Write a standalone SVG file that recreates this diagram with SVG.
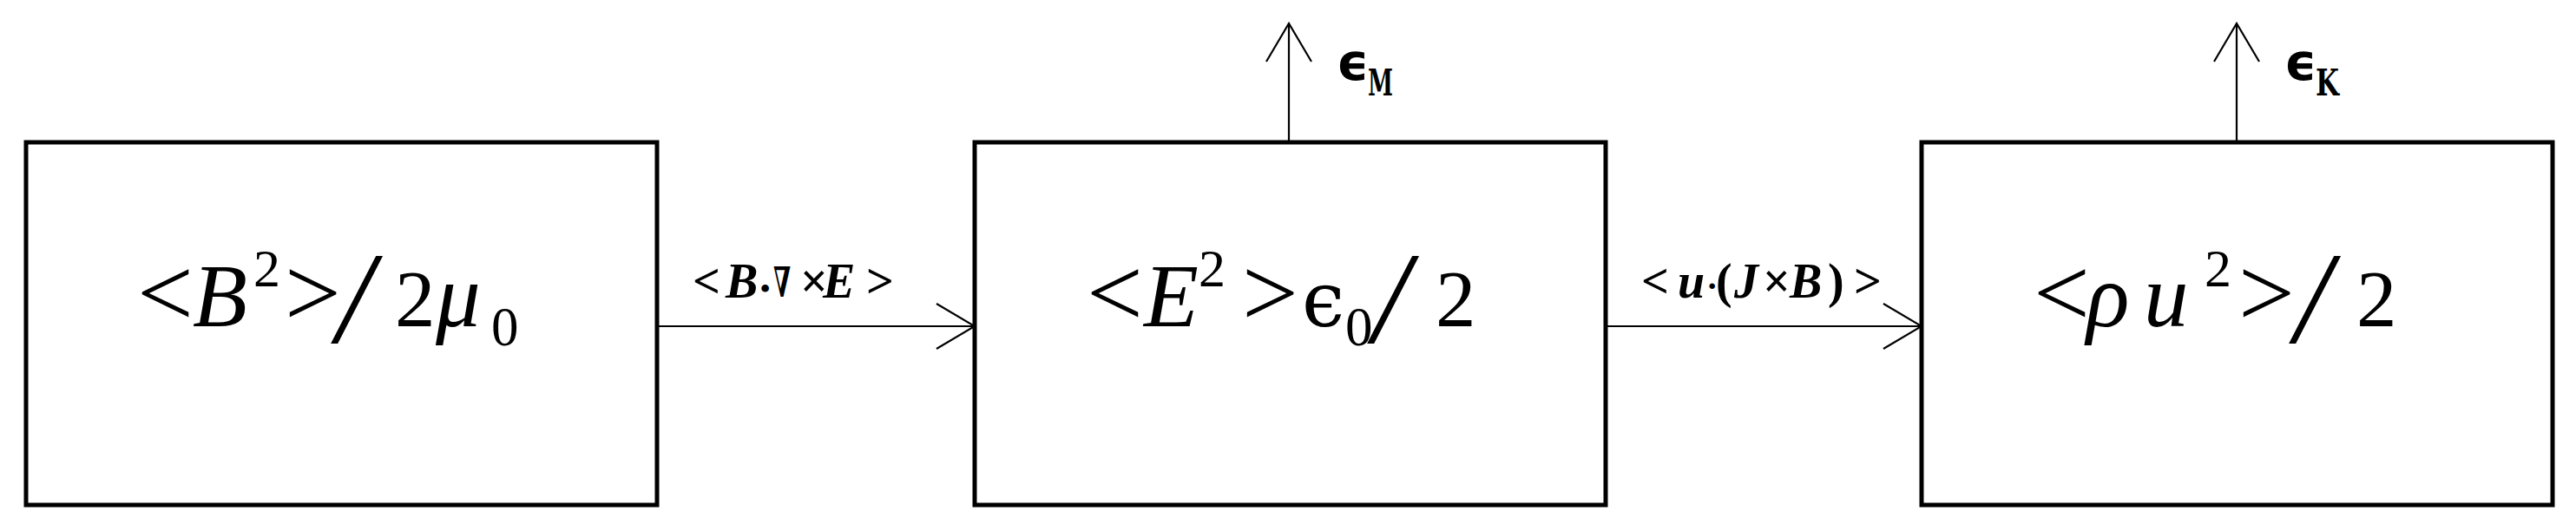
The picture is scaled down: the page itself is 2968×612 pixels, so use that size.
<svg xmlns="http://www.w3.org/2000/svg" width="2968" height="612" viewBox="0 0 2968 612">
<style>
.box{fill:#fff;stroke:#000;stroke-width:5}
.conn{fill:none;stroke:#000;stroke-width:2.2}
.m{font-family:"Liberation Serif","DejaVu Serif",serif;fill:#000}
.it{font-style:italic}
.lb{font-family:"Liberation Serif","DejaVu Serif",serif;font-weight:bold;fill:#000}
.eps{font-family:"DejaVu Sans","Noto Sans",sans-serif;font-weight:bold;fill:#000}
.sub{font-family:"DejaVu Serif",serif;font-weight:bold;fill:#000}
</style>
<defs>
<marker id="vh" markerUnits="userSpaceOnUse" viewBox="-46 -28 48 56" refX="0" refY="0" markerWidth="48" markerHeight="56" orient="auto">
<path d="M-44,-26 L0,0 L-44,26" fill="none" stroke="#000" stroke-width="2.2"/>
</marker>
</defs>
<rect width="2968" height="612" fill="#fff"/>
<g id="connectors">
<path class="conn" d="M757,376 H1123" marker-end="url(#vh)"/>
<path class="conn" d="M1850,376 H2214" marker-end="url(#vh)"/>
<path class="conn" d="M1485,163 V27" marker-end="url(#vh)"/>
<path class="conn" d="M2577,163 V27" marker-end="url(#vh)"/>
<text class="lb" y="343" font-size="56"><tspan x="798">&lt;</tspan><tspan x="836" font-style="italic">B</tspan><tspan x="876" font-size="32">•</tspan></text>
<text class="lb" x="891" y="342" font-size="48" font-family="DejaVu Sans" textLength="20" lengthAdjust="spacingAndGlyphs">∇</text>
<text class="lb" y="343" font-size="56"><tspan x="922">×</tspan><tspan x="948" font-style="italic">E</tspan><tspan x="998">&gt;</tspan></text>
<text class="lb" y="343" font-size="56"><tspan x="1891">&lt;</tspan><tspan x="1933" font-style="italic">u</tspan><tspan x="1966" font-size="40">·</tspan><tspan x="1977">(</tspan><tspan x="1998" font-style="italic">J</tspan><tspan x="2031">×</tspan><tspan x="2062" font-style="italic">B</tspan><tspan x="2106">)</tspan><tspan x="2136">&gt;</tspan></text>
<text class="eps" x="1540" y="92" font-size="58">ϵ</text>
<text class="sub" x="1576" y="110" font-size="42" textLength="29" lengthAdjust="spacingAndGlyphs">M</text>
<text class="eps" x="2632" y="92" font-size="58">ϵ</text>
<text class="sub" x="2668" y="110" font-size="42" textLength="27" lengthAdjust="spacingAndGlyphs">K</text>
</g>
<g id="node-magnetic">
<rect class="box" x="30" y="164" width="727" height="418"/>
<text class="m" y="376"><tspan x="158" font-size="115">&lt;</tspan><tspan x="222" font-size="103" class="it">B</tspan><tspan x="292" y="330" font-size="62">2</tspan><tspan x="328" y="376" font-size="115">&gt;</tspan><tspan x="388" y="395" font-size="150" class="it">/</tspan><tspan x="455" y="376" font-size="93">2</tspan><tspan x="502" font-size="103" class="it">μ</tspan><tspan x="566" y="398" font-size="63">0</tspan></text>
</g>
<g id="node-electric">
<rect class="box" x="1123" y="164" width="727" height="418"/>
<text class="m" y="376"><tspan x="1252" font-size="115">&lt;</tspan><tspan x="1318" font-size="103" class="it">E</tspan><tspan x="1381" y="330" font-size="62">2</tspan><tspan x="1431" y="376" font-size="115">&gt;</tspan><tspan x="1500" font-family="DejaVu Serif" font-size="88">ϵ</tspan><tspan x="1550" y="398" font-size="63">0</tspan><tspan x="1582" y="395" font-size="150" class="it">/</tspan><tspan x="1654" y="376" font-size="93">2</tspan></text>
</g>
<g id="node-kinetic">
<rect class="box" x="2214" y="164" width="727" height="418"/>
<text class="m" y="376"><tspan x="2343" font-size="115">&lt;</tspan><tspan x="2404" font-size="103" class="it">ρ</tspan><tspan x="2470" font-size="103" class="it">u</tspan><tspan x="2540" y="330" font-size="62">2</tspan><tspan x="2579" y="376" font-size="115">&gt;</tspan><tspan x="2644" y="395" font-size="150" class="it">/</tspan><tspan x="2715" y="376" font-size="93">2</tspan></text>
</g>
</svg>
